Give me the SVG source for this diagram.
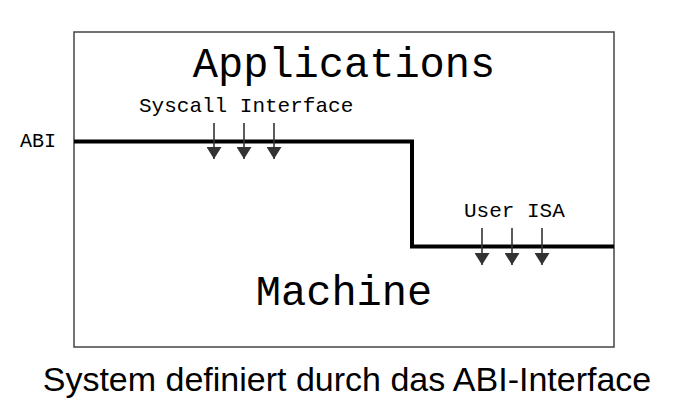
<svg xmlns="http://www.w3.org/2000/svg" width="674" height="403" viewBox="0 0 674 403">
<defs>
<style>
.mono{font-family:"Liberation Mono","DejaVu Sans Mono",monospace;fill:#000}
.big{font-size:42px}
.small{font-size:21px}
.arr{stroke:#333;stroke-width:1.6;fill:none}
.head{fill:#333}
</style>
<marker id="ah" viewBox="0 0 12 15" refX="12" refY="7.5" markerWidth="12" markerHeight="15" markerUnits="userSpaceOnUse" orient="auto">
<path d="M0,0 L12,7.5 L0,15 Z" class="head"/>
</marker>
</defs>
<rect width="674" height="403" fill="#fff"/>
<g id="frame">
<rect x="74" y="32" width="540" height="315" fill="#fff" stroke="#444" stroke-width="1.5"/>
</g>
<g id="applications"><text class="mono big" x="344" y="77" text-anchor="middle">Applications</text></g>
<g id="machine"><text class="mono big" x="344" y="305" text-anchor="middle">Machine</text></g>
<g id="abi-label"><text class="mono" style="font-size:20px" x="20" y="147">ABI</text></g>
<g id="syscall-label"><text class="mono small" x="139" y="112">Syscall Interface</text></g>
<g id="userisa-label"><text class="mono small" x="464" y="217">User ISA</text></g>
<g id="connectors">
<polyline points="74,141.5 412,141.5 412,246.5 614,246.5" fill="none" stroke="#000" stroke-width="4"/>
<line class="arr" x1="214" y1="123" x2="214" y2="159" marker-end="url(#ah)"/>
<line class="arr" x1="244" y1="123" x2="244" y2="159" marker-end="url(#ah)"/>
<line class="arr" x1="274" y1="123" x2="274" y2="159" marker-end="url(#ah)"/>
<line class="arr" x1="482" y1="228" x2="482" y2="265" marker-end="url(#ah)"/>
<line class="arr" x1="512" y1="228" x2="512" y2="265" marker-end="url(#ah)"/>
<line class="arr" x1="542" y1="228" x2="542" y2="265" marker-end="url(#ah)"/>
</g>
<g id="caption"><text x="347" y="391" text-anchor="middle" style="font-family:'Liberation Sans',Arial,sans-serif;font-size:34px;fill:#000">System definiert durch das ABI-Interface</text></g>
</svg>
